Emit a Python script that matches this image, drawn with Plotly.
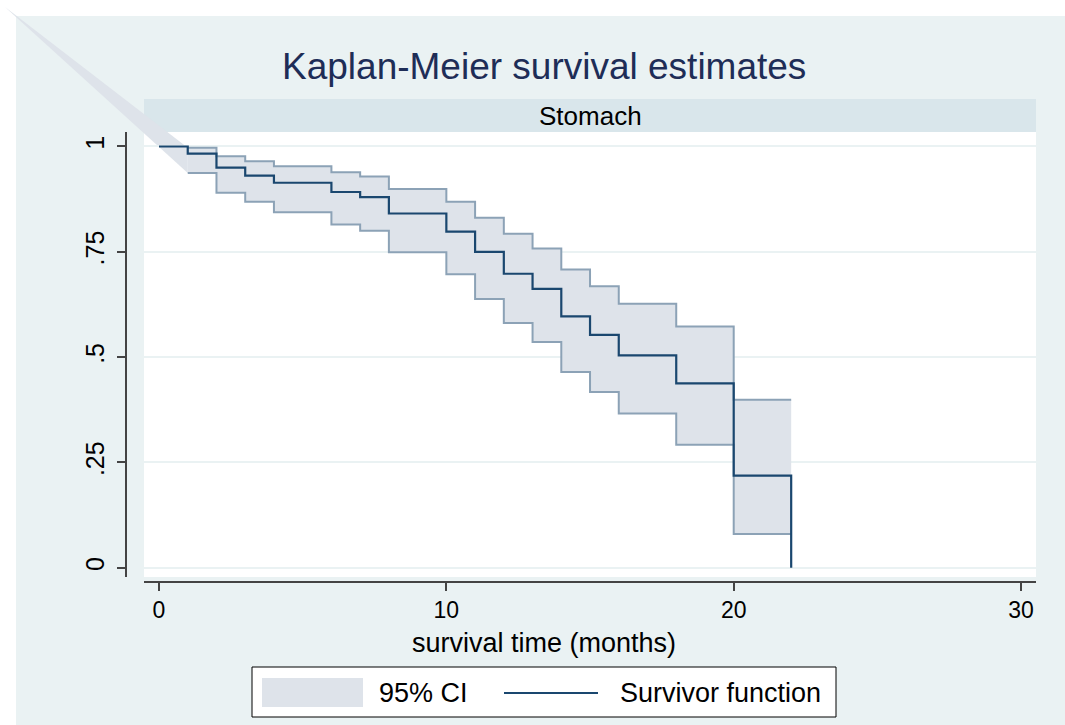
import plotly.graph_objects as go

# ---------------- data ----------------
times = [0, 1, 2, 3, 4, 6, 7, 8, 10, 11, 12, 13, 14, 15, 16, 18, 20, 22]
survivor = [1.0, 0.983, 0.950, 0.931, 0.914, 0.892, 0.880, 0.841, 0.798, 0.750,
            0.698, 0.662, 0.597, 0.553, 0.504, 0.438, 0.219, 0.0]

ci_times = [1, 2, 3, 4, 6, 7, 8, 10, 11, 12, 13, 14, 15, 16, 18, 20, 22]
ci_upper = [0.997, 0.977, 0.965, 0.953, 0.939, 0.929, 0.899, 0.869, 0.831, 0.793,
            0.758, 0.708, 0.668, 0.627, 0.573, 0.399, 0.399]
ci_lower = [0.937, 0.890, 0.869, 0.844, 0.815, 0.800, 0.749, 0.697, 0.638, 0.581,
            0.536, 0.465, 0.417, 0.366, 0.292, 0.080, 0.080]

x_ticks = [0, 10, 20, 30]
x_ticklabels = ["0", "10", "20", "30"]
y_ticks = [0, 0.25, 0.5, 0.75, 1]
y_ticklabels = ["0", ".25", ".5", ".75", "1"]

title_text = "Kaplan-Meier survival estimates"
strip_text = "Stomach"
x_title = "survival time (months)"
legend_labels = ["95% CI", "Survivor function"]

# ---------------- style ----------------
FONT = "Liberation Sans, Arial, sans-serif"
BG = "#EAF2F3"
STRIP = "#D9E6EB"
CI_FILL = "#DEE3EA"
CI_LINE = "#8CA2B6"
SURV = "#1A476F"
AXIS = "#444444"
TITLE_C = "#1E2D57"

W, H = 1065, 725
L, R, T, B = 100, 29, 132, 125
PW, PH = W - L - R, H - T - B

X_RANGE = [-0.522, 30.52]
Y_RANGE = [-0.0218, 1.0344]
PLOT_LEFT, PLOT_RIGHT, PLOT_TOP, PLOT_BOTTOM = 144, 1036, 132, 577


def pp(px, py):
    """page pixel -> paper coordinates"""
    return (px - L) / PW, (T + PH - py) / PH


def data_to_page(x, y):
    px = PLOT_LEFT + (x - X_RANGE[0]) / (X_RANGE[1] - X_RANGE[0]) * (PLOT_RIGHT - PLOT_LEFT)
    py = PLOT_BOTTOM - (y - Y_RANGE[0]) / (Y_RANGE[1] - Y_RANGE[0]) * (PLOT_BOTTOM - PLOT_TOP)
    return px, py


def step_pts(xs, ys):
    ox, oy = [], []
    for i in range(len(xs)):
        if i > 0:
            ox.append(xs[i]); oy.append(ys[i - 1])
        ox.append(xs[i]); oy.append(ys[i])
    return ox, oy


ux, uy = step_pts(ci_times, ci_upper)
lx, ly = step_pts(ci_times, ci_lower)
poly_x = ux + lx[::-1]
poly_y = uy + ly[::-1]

fig = go.Figure()
fig.add_trace(go.Scatter(x=poly_x, y=poly_y, fill="toself", fillcolor=CI_FILL,
                         mode="lines", line=dict(width=0, color=CI_FILL),
                         hoverinfo="skip", showlegend=False))
fig.add_trace(go.Scatter(x=ci_times, y=ci_upper, mode="lines", line_shape="hv",
                         line=dict(color=CI_LINE, width=2), showlegend=False))
fig.add_trace(go.Scatter(x=ci_times, y=ci_lower, mode="lines", line_shape="hv",
                         line=dict(color=CI_LINE, width=2), showlegend=False))
fig.add_trace(go.Scatter(x=times, y=survivor, mode="lines", line_shape="hv",
                         line=dict(color=SURV, width=2.2), showlegend=False))

shapes = []
# white page margins (top / left)
x0, y0 = pp(0, 0); x1, y1 = pp(W, 16)
shapes.append(dict(type="rect", xref="paper", yref="paper", x0=x0, y0=y0, x1=x1, y1=y1,
                   fillcolor="white", line_width=0, layer="below"))
x0, y0 = pp(0, 0); x1, y1 = pp(16, H)
shapes.append(dict(type="rect", xref="paper", yref="paper", x0=x0, y0=y0, x1=x1, y1=y1,
                   fillcolor="white", line_width=0, layer="below"))
# strip
x0, y0 = pp(PLOT_LEFT, 99); x1, y1 = pp(PLOT_RIGHT, 132)
shapes.append(dict(type="rect", xref="paper", yref="paper", x0=x0, y0=y0, x1=x1, y1=y1,
                   fillcolor=STRIP, line_width=0, layer="below"))
# stray wedge of the CI polygon (rendering artefact in the reference)
vx, vy = pp(5, 7)
p1 = pp(*data_to_page(ci_times[0], ci_upper[0]))
p2 = pp(*data_to_page(ci_times[0], ci_lower[0]))
shapes.append(dict(type="path", xref="paper", yref="paper",
                   path=f"M {vx},{vy} L {p1[0]},{p1[1]} L {p2[0]},{p2[1]} Z",
                   fillcolor=CI_FILL, line_width=0, layer="below"))
# legend box
x0, y0 = pp(252, 667); x1, y1 = pp(836, 717)
shapes.append(dict(type="rect", xref="paper", yref="paper", x0=x0, y0=y0, x1=x1, y1=y1,
                   fillcolor="white", line=dict(color="black", width=1)))
x0, y0 = pp(262, 678); x1, y1 = pp(363, 707)
shapes.append(dict(type="rect", xref="paper", yref="paper", x0=x0, y0=y0, x1=x1, y1=y1,
                   fillcolor=CI_FILL, line_width=0))
x0, y0 = pp(504, 693); x1, y1 = pp(598, 693)
shapes.append(dict(type="line", xref="paper", yref="paper", x0=x0, y0=y0, x1=x1, y1=y1,
                   line=dict(color=SURV, width=2.2)))

annotations = []
ax, ay = pp(544, 66)
annotations.append(dict(text=title_text, x=ax, y=ay, xref="paper", yref="paper",
                        xanchor="center", yanchor="middle", showarrow=False,
                        font=dict(family=FONT, size=37, color=TITLE_C)))
ax, ay = pp((PLOT_LEFT + PLOT_RIGHT) / 2, 116)
annotations.append(dict(text=strip_text, x=ax, y=ay, xref="paper", yref="paper",
                        xanchor="center", yanchor="middle", showarrow=False,
                        font=dict(family=FONT, size=26, color="black")))
ax, ay = pp(544, 643)
annotations.append(dict(text=x_title, x=ax, y=ay, xref="paper", yref="paper",
                        xanchor="center", yanchor="middle", showarrow=False,
                        font=dict(family=FONT, size=27, color="black")))
ax, ay = pp(377, 693)
annotations.append(dict(text=legend_labels[0], x=ax, y=ay, xref="paper", yref="paper",
                        xanchor="left", yanchor="middle", showarrow=False,
                        font=dict(family=FONT, size=27, color="black")))
ax, ay = pp(618, 693)
annotations.append(dict(text=legend_labels[1], x=ax, y=ay, xref="paper", yref="paper",
                        xanchor="left", yanchor="middle", showarrow=False,
                        font=dict(family=FONT, size=27, color="black")))

fig.update_layout(
    width=W, height=H,
    margin=dict(l=L, r=R, t=T, b=B, pad=0),
    paper_bgcolor=BG, plot_bgcolor="white",
    showlegend=False,
    shapes=shapes, annotations=annotations,
    xaxis=dict(domain=[(PLOT_LEFT - L) / PW, 1], range=X_RANGE,
               anchor="free", position=pp(0, 582)[1],
               tickvals=x_ticks, ticktext=x_ticklabels,
               ticks="outside", ticklen=8, tickwidth=1.5, tickcolor=AXIS,
               showline=True, linecolor=AXIS, linewidth=1.5,
               showgrid=False, zeroline=False,
               tickfont=dict(family=FONT, size=23, color="black")),
    yaxis=dict(domain=[pp(0, PLOT_BOTTOM)[1], 1], range=Y_RANGE,
               anchor="free", position=pp(125.5, 0)[0],
               tickvals=y_ticks, ticktext=y_ticklabels, tickangle=-90,
               ticks="outside", ticklen=8, tickwidth=1.5, tickcolor=AXIS,
               showline=True, linecolor=AXIS, linewidth=1.5,
               showgrid=True, gridcolor=BG, gridwidth=1.5, zeroline=False,
               ticklabelstandoff=3,
               tickfont=dict(family=FONT, size=25, color="black")),
)

fig.write_html("out.html")
